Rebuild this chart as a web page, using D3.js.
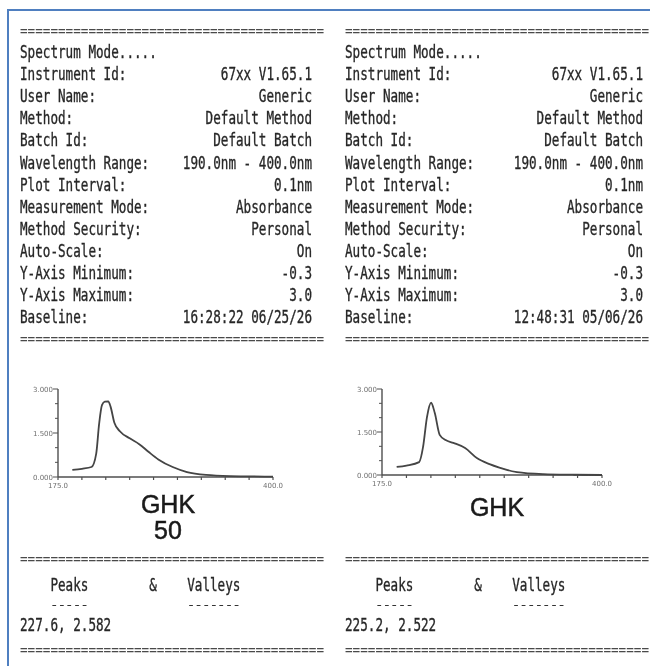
<!DOCTYPE html>
<html>
<head>
<meta charset="utf-8">
<script src="https://cdn.jsdelivr.net/npm/d3@7.9.0/dist/d3.min.js"></script>
<style>
  html, body { margin: 0; padding: 0; background: #fff; }
  svg { display: block; }
  .mono { font-family: "DejaVu Sans Mono", monospace; fill: #262626; stroke: #262626; stroke-width: 0.35; }
  .mono.sep { fill: #4a4a4a; stroke: none; }
  .tick-lbl { font-family: "DejaVu Sans", sans-serif; font-size: 7px; fill: #6f6f6f; }
  .ghk { font-family: "Liberation Sans", Arial, sans-serif; fill: #1a1a1a; stroke: #1a1a1a; stroke-width: 0.5; }
</style>
</head>
<body>
<svg id="chart" width="650" height="666"></svg>
<script>
// ---- data ----
const metaLabels = [
  'Spectrum Mode.....', 'Instrument Id:', 'User Name:', 'Method:', 'Batch Id:',
  'Wavelength Range:', 'Plot Interval:', 'Measurement Mode:', 'Method Security:',
  'Auto-Scale:', 'Y-Axis Minimum:', 'Y-Axis Maximum:', 'Baseline:'
];
const leftValues = [
  '', '67xx V1.65.1', 'Generic', 'Default Method', 'Default Batch',
  '190.0nm - 400.0nm', '0.1nm', 'Absorbance', 'Personal', 'On', '-0.3', '3.0',
  '16:28:22 06/25/26'
];
const rightValues = [
  '', '67xx V1.65.1', 'Generic', 'Default Method', 'Default Batch',
  '190.0nm - 400.0nm', '0.1nm', 'Absorbance', 'Personal', 'On', '-0.3', '3.0',
  '12:48:31 05/06/26'
];

// spectra (nm, absorbance)
const wlLeft  = [190, 200, 210, 215, 218, 221, 224, 227.6, 230, 234, 240, 250, 260, 270, 280, 295, 310, 330, 355, 380, 400];
const absLeft = [0.24, 0.28, 0.34, 0.80, 1.80, 2.45, 2.57, 2.58, 2.40, 1.85, 1.55, 1.32, 1.12, 0.85, 0.60, 0.34, 0.17, 0.07, 0.03, 0.02, 0.01];
const wlRight  = [190, 200, 213, 217, 221, 225.2, 229, 234, 240, 248, 260, 272, 285, 295, 313, 340, 370, 400];
const absRight = [0.28, 0.33, 0.45, 0.98, 2.02, 2.52, 2.16, 1.40, 1.22, 1.12, 0.94, 0.59, 0.38, 0.26, 0.10, 0.03, 0.01, 0.00];

const xDomain = [175, 400];
const yDomain = [0, 3];
const xTickLabels = ['175.0', '400.0'];
const yTickLabels = ['0.000', '1.500', '3.000'];

const sampleNames = [['GHK', '50'], ['GHK']];
const peakLines = ['227.6, 2.582', '225.2, 2.522'];

// ---- drawing ----
const svg = d3.select('#chart');
const CW = 7.6;          // printer char width
const ROW0 = 52, ROWH = 22.1;

const defs = svg.append('defs');
defs.append('filter').attr('id', 'scan')
  .append('feGaussianBlur').attr('stdDeviation', 0.45);

const page = svg.append('g').attr('filter', 'url(#scan)');

function mono(g, str, x, y, size = 18) {
  if (!str) return null;
  return g.append('text').attr('class', 'mono')
    .attr('x', x).attr('y', y)
    .attr('font-size', size)
    .attr('textLength', str.length * CW)
    .attr('lengthAdjust', 'spacingAndGlyphs')
    .text(str);
}
function monoRight(g, str, xr, y) {
  if (!str) return;
  mono(g, str, xr - str.length * CW, y);
}
function sepLine(g, x0, y) {
  mono(g, '='.repeat(40), x0, y, 15).classed('sep', true);
}

function panel(x0, xr, values, spec, names, peak) {
  const g = page.append('g');
  sepLine(g, x0, 36);
  metaLabels.forEach((lab, i) => {
    const y = ROW0 + i * ROWH + 6;
    mono(g, lab, x0, y);
    monoRight(g, values[i], xr, y);
  });
  sepLine(g, x0, 344);

  // spectrum plot
  const x = d3.scaleLinear().domain(xDomain).range([spec.left, spec.right]);
  const y = d3.scaleLinear().domain(yDomain).range([spec.bottom, spec.top]);
  const pg = g.append('g').attr('stroke', '#505050').attr('fill', 'none');

  pg.append('line').attr('x1', x(xDomain[0])).attr('x2', x(xDomain[1]))
    .attr('y1', y(0)).attr('y2', y(0)).attr('stroke-width', 1.7);
  pg.append('line').attr('x1', x(xDomain[0])).attr('x2', x(xDomain[0]))
    .attr('y1', y(0)).attr('y2', y(3)).attr('stroke-width', 1.4);

  d3.range(0, 3.01, 0.5).forEach(v => {
    const major = v % 1.5 === 0;
    pg.append('line').attr('x1', x(xDomain[0]) - (major ? 5 : 3)).attr('x2', x(xDomain[0]))
      .attr('y1', y(v)).attr('y2', y(v)).attr('stroke-width', 1);
  });
  d3.range(175, 401, 25).forEach(v => {
    pg.append('line').attr('x1', x(v)).attr('x2', x(v))
      .attr('y1', y(0)).attr('y2', y(0) + 3).attr('stroke-width', 1.2);
  });

  [0, 1.5, 3].forEach((v, i) => {
    g.append('text').attr('class', 'tick-lbl')
      .attr('x', x(xDomain[0]) - 5).attr('y', y(v) + 2.5)
      .attr('text-anchor', 'end').text(yTickLabels[i]);
  });
  g.append('text').attr('class', 'tick-lbl').attr('x', x(xDomain[0]) - 10)
    .attr('y', y(0) + 11).text(xTickLabels[0]);
  g.append('text').attr('class', 'tick-lbl').attr('x', x(xDomain[1]))
    .attr('y', y(0) + 11).attr('text-anchor', 'middle').text(xTickLabels[1]);

  const line = d3.line().x(d => x(d[0])).y(d => y(d[1])).curve(d3.curveMonotoneX);
  pg.append('path').datum(d3.zip(spec.wl, spec.ab))
    .attr('d', line).attr('stroke', '#444').attr('stroke-width', 1.8);

  names.forEach((n, i) => {
    g.append('text').attr('class', 'ghk')
      .attr('x', spec.labelX).attr('y', spec.labelY + i * 26)
      .attr('text-anchor', 'middle').attr('font-size', 25)
      .text(n);
  });

  sepLine(g, x0, 564);
  mono(g, 'Peaks', x0 + 4 * CW, 591);
  mono(g, '&', x0 + 17 * CW, 591);
  mono(g, 'Valleys', x0 + 22 * CW, 591);
  mono(g, '-----', x0 + 4 * CW, 608, 11);
  mono(g, '-------', x0 + 22 * CW, 608, 11);
  mono(g, peak, x0, 631);
  sepLine(g, x0, 655);
}

panel(20, 312, leftValues,
  { left: 58, right: 273, top: 389, bottom: 477, wl: wlLeft, ab: absLeft, labelX: 168, labelY: 513 },
  sampleNames[0], peakLines[0]);
panel(345, 643, rightValues,
  { left: 382, right: 602, top: 389, bottom: 475, wl: wlRight, ab: absRight, labelX: 497, labelY: 516 },
  sampleNames[1], peakLines[1]);

// blue frame of the scan
svg.append('path')
  .attr('d', 'M8,666V10H650')
  .attr('fill', 'none').attr('stroke', '#4f7fc0').attr('stroke-width', 2);
</script>
</body>
</html>
